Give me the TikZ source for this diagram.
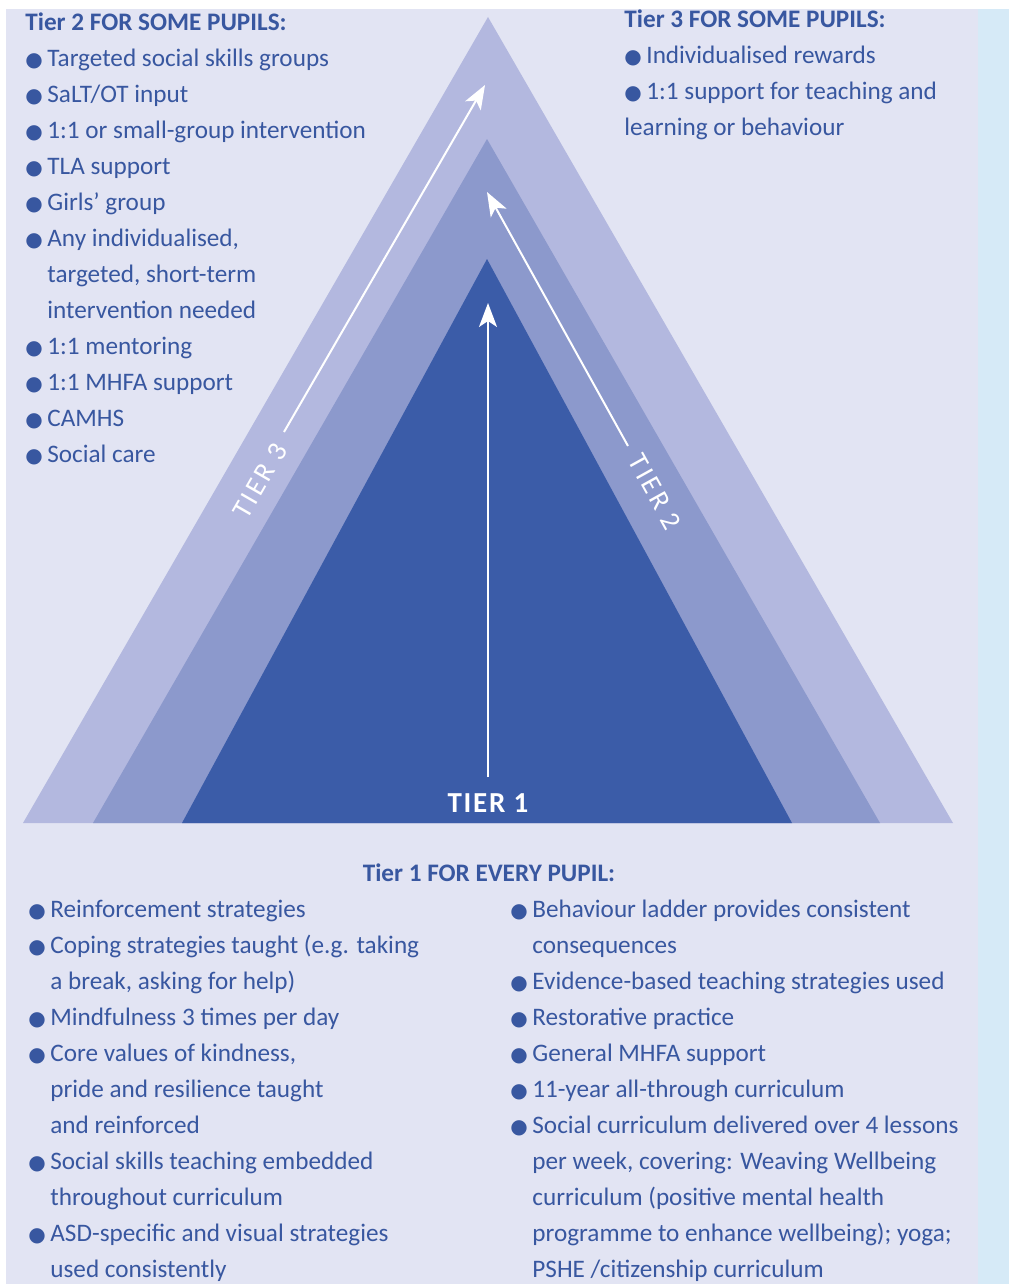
\documentclass[tikz,border=0pt]{standalone}
\usepackage{fontspec}
\setmainfont{Carlito}
\newfontfamily\dotfont{DejaVu Sans}
\usetikzlibrary{arrows.meta}
\definecolor{pagelav}{HTML}{E2E4F3}
\definecolor{sidestrip}{HTML}{D6EAF7}
\definecolor{tierthree}{HTML}{B3B8DF}
\definecolor{tiertwo}{HTML}{8C99CC}
\definecolor{tierone}{HTML}{3B5CA8}
\colorlet{listblue}{tierone!95!black}
\newcommand{\dotb}{\makebox[7pt][l]{\dotfont\fontsize{10}{10}\selectfont\char"25CF}}

\begin{document}
\begin{tikzpicture}[x=0.5pt,y=-0.5pt]
\tikzset{listblock/.style ={anchor=north west, inner sep=0, text=listblue,
  font=\fontsize{12.6}{18}\selectfont}}
\tikzset{tierarrow/.style ={white, line width=1pt, -{Stealth[length=12pt,width=9pt,inset=3pt]}}}
\tikzset{tierlabel/.style ={text=white, inner sep=0,
  font=\fontsize{14}{14}\selectfont\addfontfeature{LetterSpace=10}}}
\useasboundingbox (0,0) rectangle (1009,1284);
\fill[white] (0,0) rectangle (1009,1284);
\fill[pagelav] (6,9) rectangle (978,1284);
\fill[sidestrip] (978,9) rectangle (1009,1284);
% the three tiers
\fill[tierthree] (23,823) -- (488,17) -- (953,823) -- cycle;
\fill[tiertwo] (93,823) -- (487,139) -- (880,823) -- cycle;
\fill[tierone] (182,823) -- (487,259) -- (792,823) -- cycle;
% arrows
\coordinate (t1start) at (488,777);
\coordinate (t1end) at (488,303);
\coordinate (t2start) at (628,446);
\coordinate (t2end) at (487,192);
\coordinate (t3start) at (284,432);
\coordinate (t3end) at (485,85);
\draw[tierarrow] (t1start) -- (t1end);
\draw[tierarrow] (t2start) -- (t2end);
\draw[tierarrow] (t3start) -- (t3end);
\node[tierlabel, rotate=60] (tier3) at (260,481) {TIER 3};
\node[tierlabel, rotate=-61] (tier2) at (655,492) {TIER 2};
\node[tierlabel, font=\fontsize{14.5}{14.5}\selectfont\bfseries\addfontfeature{LetterSpace=6}] (tier1) at (488,803) {TIER 1};
% lists
\node[listblock] (tier2list) at (25,4.8) {\begin{tabular}{@{}l@{\hspace{4pt}}l@{}}
\multicolumn{2}{@{}l@{}}{\bfseries Tier 2 FOR SOME PUPILS:}\\
\dotb & Targeted social skills groups\\
\dotb & SaLT/OT input\\
\dotb & 1:1 or small-group intervention\\
\dotb & TLA support\\
\dotb & Girls’ group\\
\dotb & Any individualised,\\
 & targeted, short-term\\
 & intervention needed\\
\dotb & 1:1 mentoring\\
\dotb & 1:1 MHFA support\\
\dotb & CAMHS\\
\dotb & Social care
\end{tabular}};
\node[listblock] (tier3list) at (624,1.8) {\begin{tabular}{@{}l@{\hspace{4pt}}l@{}}
\multicolumn{2}{@{}l@{}}{\bfseries Tier 3 FOR SOME PUPILS:}\\
\dotb & Individualised rewards\\
\dotb & 1:1 support for teaching and\\
\multicolumn{2}{@{}l@{}}{learning or behaviour}
\end{tabular}};
\node[listblock, anchor=base] (tier1head) at (489,881) {\bfseries Tier 1 FOR EVERY PUPIL:};
\node[listblock] (tier1left) at (28,891.8) {\begin{tabular}{@{}l@{\hspace{4pt}}l@{}}
\dotb & Reinforcement strategies\\
\dotb & Coping strategies taught (e.g. taking\\
 & a break, asking for help)\\
\dotb & Mindfulness 3 times per day\\
\dotb & Core values of kindness,\\
 & pride and resilience taught\\
 & and reinforced\\
\dotb & Social skills teaching embedded\\
 & throughout curriculum\\
\dotb & ASD-specific and visual strategies\\
 & used consistently
\end{tabular}};
\node[listblock] (tier1right) at (510,891.8) {\begin{tabular}{@{}l@{\hspace{4pt}}l@{}}
\dotb & Behaviour ladder provides consistent\\
 & consequences\\
\dotb & Evidence-based teaching strategies used\\
\dotb & Restorative practice\\
\dotb & General MHFA support\\
\dotb & 11-year all-through curriculum\\
\dotb & Social curriculum delivered over 4 lessons\\
 & per week, covering: Weaving Wellbeing\\
 & curriculum (positive mental health\\
 & programme to enhance wellbeing); yoga;\\
 & PSHE /citizenship curriculum
\end{tabular}};
\end{tikzpicture}
\end{document}
